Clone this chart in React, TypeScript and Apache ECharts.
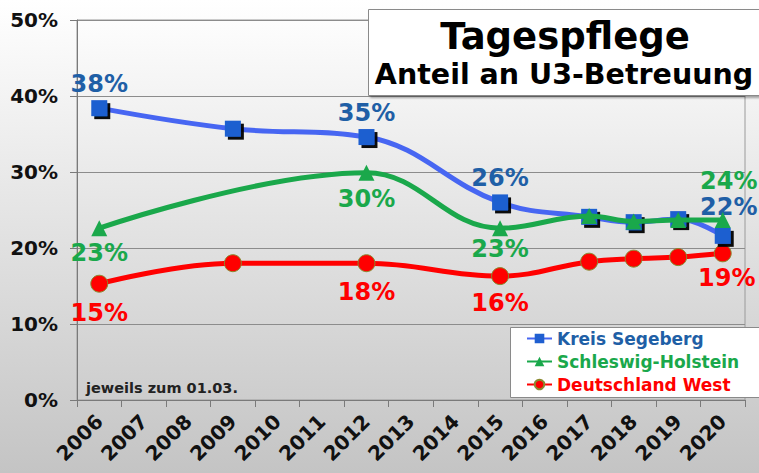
import React, { useEffect, useRef } from "react";
import * as echarts from "echarts";

const years = ["2006", "2007", "2008", "2009", "2010", "2011", "2012", "2013", "2014", "2015", "2016", "2017", "2018", "2019", "2020"];
const kreisSegeberg = [38.4, null, null, 35.7, null, null, 34.6, null, null, 26.0, null, 24.1, 23.4, 23.8, 21.6];
const schleswigHolstein = [22.6, null, null, null, null, null, 29.9, null, null, 22.6, null, 24.2, 23.5, 23.7, 23.7];
const deutschlandWest = [15.3, null, null, 18.0, null, null, 18.0, null, null, 16.3, null, 18.2, 18.6, 18.8, 19.3];
const yTicks = [0, 10, 20, 30, 40, 50];
const seriesNames = ["Kreis Segeberg", "Schleswig-Holstein", "Deutschland West"];
const titleLines = ["Tagespflege", "Anteil an U3-Betreuung"];
const noteText = "jeweils zum 01.03.";

const FONT = "DejaVu Sans";

type LabelCfg = { position: "top" | "bottom"; distance: number; offset?: number[] };

const blueLabels: Record<number, LabelCfg> = {
  0: { position: "top", distance: 5 },
  6: { position: "top", distance: 5 },
  9: { position: "top", distance: 5 },
  14: { position: "top", distance: 5, offset: [6, -5] },
};
const greenLabels: Record<number, LabelCfg> = {
  0: { position: "bottom", distance: 6 },
  6: { position: "bottom", distance: 7 },
  9: { position: "bottom", distance: 2 },
  14: { position: "top", distance: 5, offset: [6, -15] },
};
const redLabels: Record<number, LabelCfg> = {
  0: { position: "bottom", distance: 9 },
  6: { position: "bottom", distance: 9 },
  9: { position: "bottom", distance: 7 },
  14: { position: "bottom", distance: 5, offset: [4, 0] },
};

function buildData(values: (number | null)[], labels: Record<number, LabelCfg>, color: string) {
  return values.map((v, i) => {
    const cfg = labels[i];
    if (v === null || !cfg) return v;
    return {
      value: v,
      label: {
        show: true,
        position: cfg.position,
        distance: cfg.distance,
        offset: cfg.offset || [0, 0],
        formatter: (p: any) => Math.round(p.value) + "%",
        color,
        fontFamily: FONT,
        fontWeight: "bold",
        fontSize: 24,
        lineHeight: 22,
      },
    };
  });
}

export default function App() {
  const ref = useRef<HTMLDivElement>(null);
  useEffect(() => {
    if (!ref.current) return;
    const chart = echarts.init(ref.current, null, { renderer: "svg" });
    const blueLine = "#4766f2";
    const blueMark = "#1f5fd0";
    const blueText = "#1f5fa6";
    const green = "#1aa84b";
    const red = "#ff0000";

    chart.setOption({
      animation: false,
      backgroundColor: new echarts.graphic.LinearGradient(0, 0, 0, 1, [
        { offset: 0, color: "#ffffff" },
        { offset: 1, color: "#c4c4c4" },
      ]),
      grid: {
        left: 77,
        right: 14,
        top: 20,
        bottom: 73,
        show: true,
        borderColor: "#9a9a9a",
        borderWidth: 1,
        backgroundColor: new echarts.graphic.LinearGradient(0, 0, 0, 1, [
          { offset: 0, color: "#fdfdfd" },
          { offset: 1, color: "#cdcdcd" },
        ]),
      },
      xAxis: {
        type: "category",
        data: years,
        boundaryGap: true,
        axisLine: { lineStyle: { color: "#7a7a7a", width: 1 } },
        axisTick: { show: true, length: 7, lineStyle: { color: "#7a7a7a" } },
        axisLabel: {
          interval: 0,
          rotate: 45,
          margin: 18,
          fontFamily: FONT,
          fontWeight: "bold",
          fontSize: 20,
          color: "#111",
        },
      },
      yAxis: {
        type: "value",
        min: 0,
        max: 50,
        interval: 10,
        axisLine: { show: true, lineStyle: { color: "#7a7a7a", width: 1 } },
        axisTick: { show: true, length: 7, lineStyle: { color: "#7a7a7a" } },
        axisLabel: {
          margin: 19,
          fontFamily: FONT,
          fontWeight: "bold",
          fontSize: 20,
          color: "#111",
          formatter: (v: number) => (yTicks.includes(v) ? v + "%" : ""),
        },
        splitLine: { show: true, lineStyle: { color: "#8c8c8c", width: 1 } },
      },
      legend: {
        orient: "vertical",
        left: 526,
        top: 330,
        padding: 0,
        itemWidth: 25,
        itemHeight: 12,
        itemGap: 6,
        textStyle: { fontFamily: FONT, fontWeight: "bold", fontSize: 17 },
        data: [
          { name: seriesNames[0], textStyle: { color: blueText } },
          { name: seriesNames[1], textStyle: { color: green } },
          { name: seriesNames[2], textStyle: { color: red } },
        ],
      },
      graphic: [
        {
          type: "rect",
          left: 510,
          top: 327,
          shape: { width: 262, height: 70 },
          style: { fill: "#ffffff", stroke: "#8a8a8a", lineWidth: 1 },
          z: 0,
        },
        {
          type: "rect",
          left: 368,
          top: 9,
          shape: { width: 400, height: 86 },
          style: { fill: "#ffffff", stroke: "#8a8a8a", lineWidth: 1, shadowColor: "rgba(0,0,0,0.35)", shadowOffsetX: 2, shadowOffsetY: 2, shadowBlur: 2 },
          z: 100,
        },
        {
          type: "text",
          x: 565,
          y: 36,
          style: { text: titleLines[0], fontFamily: FONT, fontWeight: "bold", fontSize: 37, fill: "#000", align: "center", verticalAlign: "middle" },
          z: 101,
        },
        {
          type: "text",
          x: 564,
          y: 74,
          style: { text: titleLines[1], fontFamily: FONT, fontWeight: "bold", fontSize: 28.5, fill: "#000", align: "center", verticalAlign: "middle" },
          z: 101,
        },
        {
          type: "text",
          x: 86,
          y: 388,
          style: { text: noteText, fontFamily: FONT, fontWeight: "bold", fontSize: 14.5, fill: "#222", align: "left", verticalAlign: "middle" },
          z: 101,
        },
      ],
      series: [
        {
          name: seriesNames[0],
          type: "line",
          smooth: 0.4,
          connectNulls: true,
          symbol: "rect",
          symbolSize: 16,
          z: 3,
          lineStyle: { color: blueLine, width: 5 },
          itemStyle: { color: blueMark, shadowColor: "rgba(0,0,0,0.95)", shadowOffsetX: 3, shadowOffsetY: 3, shadowBlur: 1 },
          data: buildData(kreisSegeberg, blueLabels, blueText),
        },
        {
          name: seriesNames[1],
          type: "line",
          smooth: 0.4,
          connectNulls: true,
          symbol: "triangle",
          symbolSize: 16,
          z: 4,
          lineStyle: { color: green, width: 5 },
          itemStyle: { color: green },
          data: buildData(schleswigHolstein, greenLabels, green),
        },
        {
          name: seriesNames[2],
          type: "line",
          smooth: 0.4,
          connectNulls: true,
          symbol: "circle",
          symbolSize: 17,
          z: 2,
          lineStyle: { color: red, width: 5 },
          itemStyle: { color: red, borderColor: "#8a8a30", borderWidth: 1 },
          data: buildData(deutschlandWest, redLabels, red),
        },
      ],
    });
    return () => chart.dispose();
  }, []);
  return <div ref={ref} style={{ position: "fixed", left: 0, top: 0, width: 759, height: 473 }} />;
}
